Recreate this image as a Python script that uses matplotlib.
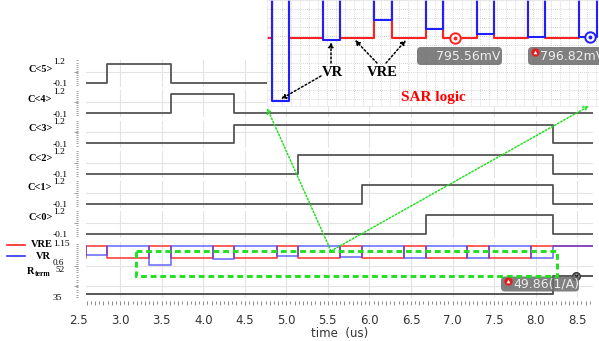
import numpy as np
import matplotlib
matplotlib.use('Agg')
import matplotlib.pyplot as plt
from matplotlib.ticker import MultipleLocator, FuncFormatter
from matplotlib.patches import FancyBboxPatch, Rectangle
from matplotlib.lines import Line2D
from matplotlib.transforms import blended_transform_factory, offset_copy

W, H, DPI = 599, 341, 100

# ---------------- data ----------------
time_span = [2.50, 8.69]
row_names = ['C<5>', 'C<4>', 'C<3>', 'C<2>', 'C<1>', 'C<0>']
c_rise = [2.84, 3.61, 4.37, 5.145, 5.91, 6.68]
c_fall = [3.61, 4.37, 8.21, 8.21, 8.21, 8.21]
c_high, c_low = 1.2, 0.0
c_top_label, c_bot_label = '1.2', '-0.1'

window_start = [2.595, 3.35, 4.12, 4.885, 5.65, 6.42, 7.18, 7.95]
window_end = [2.84, 3.61, 4.37, 5.145, 5.91, 6.68, 7.44, 8.21]
vre_high = 1.15
vre_low = 0.79556
vr_high = 1.15
vr_window = [0.882, 0.602, 0.7885, 0.850, 0.822, 0.807, 0.7986, 0.79682]

rterm_t = [2.50, 8.205, 8.69]
rterm_v = [35.0, 49.86, 49.86]

marker_vre = (6.09, 0.79556)
marker_vr = (8.11, 0.79682)
marker_rterm = (8.487, 49.86)

marker_texts = ['795.56mV', '796.82mV', '49.86(1/A)']

# ---------------- helpers ----------------
def rect(x0, y0, x1, y1):
    return [x0 / W, 1 - y1 / H, (x1 - x0) / W, (y1 - y0) / H]

def steps(t_on, t_off, hi, lo):
    t = [time_span[0], t_on, t_off, time_span[1]]
    v = [lo, hi, lo, lo]
    return t, v

def vre_wave():
    t, v = [time_span[0]], [vre_low]
    for s, e in zip(window_start, window_end):
        t += [s, e]
        v += [vre_high, vre_low]
    v[-1] = vre_high
    t.append(time_span[1]); v.append(vre_high)
    return t, v

def vr_wave():
    t, v = [time_span[0]], [vr_high]
    for s, e, w in zip(window_start, window_end, vr_window):
        t += [s, e]
        v += [w, vr_high]
    t.append(time_span[1]); v.append(vr_high)
    return t, v

XLIM = (2.59, 8.69)
PXL, PXR = 86, 593
GRID = '#e3e3e3'
SERIF = 'Liberation Serif'

fig = plt.figure(figsize=(W / DPI, H / DPI), dpi=DPI)
fig.patch.set_facecolor('white')

def style_row(ax, ylim, ygrid):
    ax.set_xlim(XLIM)
    ax.set_ylim(ylim)
    ax.patch.set_alpha(0)
    for s in ax.spines.values():
        s.set_visible(False)
    ax.xaxis.set_major_locator(MultipleLocator(0.5))
    ax.tick_params(axis='x', length=0, labelbottom=False)
    ax.set_yticks(ygrid)
    ax.yaxis.set_minor_locator(MultipleLocator((ylim[1] - ylim[0]) / 13))
    ax.grid(True, axis='x', color=GRID, lw=0.8)
    ax.grid(True, axis='y', which='major', color=GRID, lw=0.8)
    ax.spines['left'].set_position(('outward', 5.8))
    ax.tick_params(axis='y', which='both', direction='out', color='#a0a0a0',
                   width=0.7, labelleft=False)
    ax.tick_params(axis='y', which='major', length=2.6)
    ax.tick_params(axis='y', which='minor', length=1.6)
    ax.set_axisbelow(True)

# ---- digital rows ----
for k, name in enumerate(row_names):
    top = 60.3 + 30.1 * k
    ax = fig.add_axes(rect(PXL, top, PXR, top + 27), zorder=1)
    style_row(ax, (-0.253, 1.453), [0.7])
    t, v = steps(c_rise[k], c_fall[k], c_high, c_low)
    ax.plot(t, v, drawstyle='steps-post', color='#555555', lw=1.3)

# ---- VRE / VR row ----
ax_v = fig.add_axes(rect(PXL, 242, PXR, 268), zorder=1)
style_row(ax_v, (0.515, 1.265), [0.56])
tv, vv = vre_wave()
tr, vr = vr_wave()
ax_v.plot(tv, vv, drawstyle='steps-post', color='#ff3030', lw=1.1)
ax_v.plot(tr, vr, drawstyle='steps-post', color='#4040ff', lw=1.1, alpha=0.8)

# ---- R_term row ----
ax_r = fig.add_axes(rect(PXL, 266, PXR, 298), zorder=1)
style_row(ax_r, (31.7, 58.1), [41.5])
ax_r.plot(rterm_t, rterm_v, drawstyle='steps-post', color='#555555', lw=1.4)
ax_r.plot([marker_rterm[0]], [marker_rterm[1]], 'o', ms=5.5, mfc='#9a9a9a',
          mec='#333333', mew=1.0, zorder=6)
ax_r.plot([marker_rterm[0]], [marker_rterm[1]], 'x', ms=3.2, mec='#222222',
          mew=0.9, zorder=7)

# ---- x axis ----
ax_x = fig.add_axes(rect(PXL, 300.6, PXR, 300.7), zorder=1)
ax_x.set_xlim(XLIM)
ax_x.patch.set_alpha(0)
for s in ax_x.spines.values():
    s.set_visible(False)
ax_x.set_yticks([])
ax_x.xaxis.set_major_locator(MultipleLocator(0.1))
ax_x.xaxis.set_minor_locator(MultipleLocator(0.05))

def fmt(x, pos):
    if abs(x * 2 - round(x * 2)) < 1e-6:
        return f'{x:.1f}'
    return ''

ax_x.xaxis.set_major_formatter(FuncFormatter(fmt))
TL, PAD = 2.9, 6.5
ax_x.tick_params(axis='x', which='major', length=TL, width=0.7, color='#8a8a8a',
                 labelsize=8.5, labelcolor='#333333', pad=PAD)
ax_x.tick_params(axis='x', which='minor', length=1.8, width=0.7, color='#8a8a8a')
tr_lbl = offset_copy(blended_transform_factory(ax_x.transData, ax_x.transAxes),
                     fig=fig, y=-(TL + PAD), units='points')
ax_x.text(2.5, 0, '2.5', transform=tr_lbl, ha='center', va='top', fontsize=8.5,
          color='#333333', clip_on=False)

# ---- inset ----
ax_in = fig.add_axes(rect(267, 0, 599, 106), zorder=5)
ax_in.set_facecolor('white')
ax_in.set_xlim(3.28, 8.242)
ax_in.set_ylim(0.5859, 0.9113)
for s in ax_in.spines.values():
    s.set_color('#e6e6e6'); s.set_linewidth(0.5)
ax_in.xaxis.set_major_locator(MultipleLocator(0.1345))
ax_in.yaxis.set_major_locator(MultipleLocator(0.0276))
ax_in.tick_params(length=0, labelbottom=False, labelleft=False)
ax_in.grid(True, color='#c8c8c8', lw=0.6, linestyle=(0, (1, 1.5)))
ax_in.set_axisbelow(True)
ax_in.plot(tv, vv, drawstyle='steps-post', color='#ff2020', lw=1.5)
ax_in.plot(tr, vr, drawstyle='steps-post', color='#2020ff', lw=1.5)
ax_in.plot([marker_vre[0]], [marker_vre[1]], 'o', ms=7.5, mfc='white', mec='#ff2020', mew=1.4)
ax_in.plot([marker_vre[0]], [marker_vre[1]], 'o', ms=2.8, mfc='#ff2020', mec='none')
ax_in.plot([marker_vr[0]], [marker_vr[1]], 'o', ms=7.5, mfc='white', mec='#2020ff', mew=1.4)
ax_in.plot([marker_vr[0]], [marker_vr[1]], 'o', ms=2.8, mfc='#2020ff', mec='none')

# ---- overlay (pixel coordinates) ----
ov = fig.add_axes([0, 0, 1, 1], zorder=10)
ov.set_xlim(0, W); ov.set_ylim(H, 0)
ov.axis('off')
ov.patch.set_alpha(0)

# left labels
for k, name in enumerate(row_names):
    ov.text(52.5, 70 + 29.4 * k, name, ha='right', va='center', fontsize=7.5,
            fontweight='bold', family=SERIF)
    ov.text(53.5, 61.5 + 30.1 * k, c_top_label, ha='left', va='center', fontsize=6.8,
            family=SERIF)
    ov.text(53, 84.5 + 30.1 * k, c_bot_label, ha='left', va='center', fontsize=6.8,
            family=SERIF)

ov.add_line(Line2D([7, 25], [244.5, 244.5], color='#ff2020', lw=1.2))
ov.add_line(Line2D([7, 25], [256, 256], color='#3030ff', lw=1.2))
ov.text(52.5, 244.5, 'VRE', ha='right', va='center', fontsize=7.5, fontweight='bold', family=SERIF)
ov.text(43, 256.5, 'VR', ha='center', va='center', fontsize=7.5, fontweight='bold', family=SERIF)
ov.text(53, 244.5, '1.15', ha='left', va='center', fontsize=6.8, family=SERIF)
ov.text(53, 263.2, '0.6', ha='left', va='center', fontsize=6.6, family=SERIF)
ov.text(55, 270.3, '52', ha='left', va='center', fontsize=6.6, family=SERIF)
ov.text(53, 297.7, '35', ha='left', va='center', fontsize=6.8, family=SERIF)
ov.text(27, 272, 'R', ha='left', va='center', fontsize=7.5, fontweight='bold', family=SERIF)
ov.text(34.5, 274.5, 'term', ha='left', va='center', fontsize=5.5, fontweight='bold', family=SERIF)

ov.text(340, 333, 'time  (us)', ha='center', va='center', fontsize=8.5, color='#333333')

# inset annotations
ov.text(332, 72, 'VR', ha='center', va='center', fontsize=10.5, fontweight='bold', family=SERIF)
ov.text(382, 72, 'VRE', ha='center', va='center', fontsize=10.5, fontweight='bold', family=SERIF)
ov.text(433, 97, 'SAR logic', ha='center', va='center', fontsize=11, fontweight='bold',
        family=SERIF, color='#ff0000')
arrow_kw = dict(arrowstyle='-|>', color='black', lw=1.1, linestyle=(0, (1.2, 1.5)),
                mutation_scale=7, shrinkA=0, shrinkB=0)
for (x0, y0), (x1, y1) in [((331, 63), (331, 42)), ((321, 76), (281, 99)),
                           ((377, 63), (355, 40)), ((386, 63), (406, 40))]:
    ov.annotate('', xy=(x1, y1), xytext=(x0, y0), arrowprops=arrow_kw)

# marker label boxes
box_kw = dict(boxstyle='round,pad=0,rounding_size=4', fc='#6e6e6e', ec='none', alpha=0.88)
ov.add_patch(FancyBboxPatch((417, 47), 85, 18, **box_kw))
ov.text(468, 56.5, marker_texts[0], ha='center', va='center', fontsize=9, color='#eeeeee')
ov.add_patch(FancyBboxPatch((528, 47), 80, 18, **box_kw))
ov.plot([535], [52], 'o', ms=6, mfc='#e02020', mec='none')
ov.plot([535], [52.3], '^', ms=2.6, mfc='white', mec='none')
ov.text(540, 56.5, marker_texts[1], ha='left', va='center', fontsize=9, color='#eeeeee')
ov.add_patch(FancyBboxPatch((501, 276.5), 78, 15, **box_kw))
ov.plot([508], [280.5], 'o', ms=6, mfc='#e02020', mec='none')
ov.plot([508], [280.8], '^', ms=2.6, mfc='white', mec='none')
ov.text(513, 284.3, marker_texts[2], ha='left', va='center', fontsize=9, color='#eeeeee')

# green zoom rectangle and arrows
GREEN = '#20e020'
ov.add_patch(Rectangle((136, 251), 420.7, 24.7, fill=False, ec=GREEN, lw=2.1,
                       linestyle=(0, (2, 1.3))))
g_kw = dict(arrowstyle='->', color=GREEN, lw=1.1, linestyle=(0, (1, 1.3)),
            mutation_scale=8, shrinkA=0, shrinkB=0)
ov.annotate('', xy=(267, 108), xytext=(331, 251), arrowprops=g_kw)
ov.annotate('', xy=(589, 106), xytext=(331, 251), arrowprops=g_kw)

fig.savefig('out.png', dpi=DPI, facecolor='white')
